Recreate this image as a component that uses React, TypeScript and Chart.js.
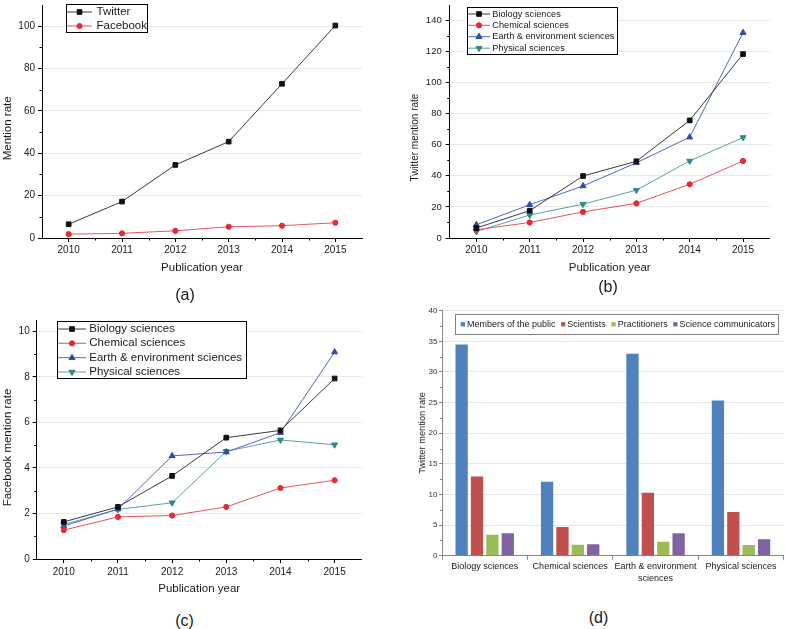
import React, { useEffect, useRef } from 'react';
import { Chart, registerables } from 'chart.js';
import { drawPoint } from 'chart.js/helpers';

Chart.register(...registerables);

const FONT = '"Liberation Sans", Arial, Helvetica, sans-serif';
Chart.defaults.font.family = FONT;

// ---------- data ----------
const years = ['2010', '2011', '2012', '2013', '2014', '2015'];

// (a)
const twitterRate = [6.5, 17.2, 34.5, 45.5, 72.8, 100.3];
const facebookRate = [1.8, 2.2, 3.4, 5.3, 5.8, 7.2];

// (b) Twitter mention rate by field
const fieldNames = ['Biology sciences', 'Chemical sciences', 'Earth & environment sciences', 'Physical sciences'];
const twBiology = [6.4, 17.6, 39.9, 49.4, 75.7, 118.4];
const twChemical = [5.3, 10.0, 16.8, 22.3, 34.6, 49.6];
const twEarth = [8.5, 21.4, 33.5, 48.4, 64.9, 132.2];
const twPhysical = [4.2, 14.8, 21.8, 30.8, 49.6, 64.7];

// (c) Facebook mention rate by field
const fbBiology = [1.63, 2.29, 3.65, 5.33, 5.65, 7.93];
const fbChemical = [1.27, 1.85, 1.91, 2.29, 3.12, 3.46];
const fbEarth = [1.45, 2.19, 4.53, 4.70, 5.55, 9.09];
const fbPhysical = [1.52, 2.18, 2.47, 4.73, 5.23, 5.02];

// (d) Twitter mention rate by audience
const barCategories = [['Biology sciences'], ['Chemical sciences'], ['Earth & environment', 'sciences'], ['Physical sciences']];
const audiences = ['Members of the public', 'Scientists', 'Practitioners', 'Science communicators'];
const publicRate = [34.5, 12.08, 32.97, 25.35];
const scientistRate = [12.95, 4.68, 10.28, 7.13];
const practitionerRate = [3.43, 1.8, 2.29, 1.74];
const communicatorRate = [3.65, 1.85, 3.65, 2.67];

// tick labels
const yTicksA = [0, 20, 40, 60, 80, 100];
const yTicksB = [0, 20, 40, 60, 80, 100, 120, 140];
const yTicksC = [0, 2, 4, 6, 8, 10];
const yTicksD = [0, 5, 10, 15, 20, 25, 30, 35, 40];

// ---------- styles ----------
const S_BLACK = { color: '#111111', line: '#3a3a3a', shape: 'rect', r: 3.3, rot: 0 };
const S_RED = { color: '#e52a30', line: '#e8545a', shape: 'circle', r: 2.6, rot: 0 };
const S_BLUE = { color: '#2f4fa5', line: '#5068bd', shape: 'triangle', r: 3.5, rot: 0 };
const S_TEAL = { color: '#2e8a86', line: '#5ba3a0', shape: 'triangle', r: 3.5, rot: 180 };
const BAR_COLORS = ['#4F81BD', '#C0504D', '#9BBB59', '#8064A2'];
const TEXT = '#1a1a1a';

// ---------- plugins ----------
const boxLegend = {
  id: 'boxLegend',
  afterDraw(chart: any, _a: any, o: any) {
    if (!o || !o.w) return;
    const ctx = chart.ctx;
    ctx.save();
    ctx.fillStyle = '#ffffff';
    ctx.fillRect(o.x, o.y, o.w, o.h);
    ctx.strokeStyle = o.border;
    ctx.lineWidth = 1;
    ctx.strokeRect(Math.round(o.x) + 0.5, Math.round(o.y) + 0.5, Math.round(o.w), Math.round(o.h));
    ctx.font = `${o.size}px ${FONT}`;
    ctx.textBaseline = 'middle';
    ctx.textAlign = 'left';
    const dss = chart.data.datasets;
    if (o.kind === 'bar') {
      let sx = o.startX;
      const cy = o.rows[0];
      dss.forEach((ds: any) => {
        ctx.fillStyle = ds.backgroundColor;
        ctx.fillRect(sx, cy - o.swatch / 2, o.swatch, o.swatch);
        const tx = sx + o.swatch + 2;
        ctx.fillStyle = TEXT;
        ctx.fillText(ds.label, tx, cy);
        sx = tx + ctx.measureText(ds.label).width + 5.5;
      });
    } else {
      dss.forEach((ds: any, i: number) => {
        const cy = o.rows[i];
        ctx.strokeStyle = ds.borderColor;
        ctx.lineWidth = 1;
        ctx.beginPath();
        ctx.moveTo(o.lineX0, cy);
        ctx.lineTo(o.lineX1, cy);
        ctx.stroke();
        ctx.fillStyle = ds.pointBackgroundColor;
        ctx.strokeStyle = ds.pointBorderColor;
        drawPoint(ctx, { pointStyle: ds.pointStyle, rotation: ds.pointRotation || 0, radius: ds.pointRadius, borderWidth: ds.pointBorderWidth }, (o.lineX0 + o.lineX1) / 2, cy);
        ctx.fillStyle = TEXT;
        ctx.fillText(ds.label, o.textX, cy);
      });
    }
    ctx.restore();
  },
};

const minorTicks = {
  id: 'minorTicks',
  afterDraw(chart: any, _a: any, o: any) {
    if (!o || !o.len) return;
    const ctx = chart.ctx;
    const { left, bottom } = chart.chartArea;
    ctx.save();
    ctx.strokeStyle = o.color;
    ctx.lineWidth = 1;
    ctx.beginPath();
    (o.x || []).forEach((v: number) => {
      const px = Math.round(chart.scales.x.getPixelForValue(v)) + 0.5;
      ctx.moveTo(px, bottom);
      ctx.lineTo(px, bottom + o.len);
    });
    (o.y || []).forEach((v: number) => {
      const py = Math.round(chart.scales.y.getPixelForValue(v)) + 0.5;
      ctx.moveTo(left, py);
      ctx.lineTo(left - o.len, py);
    });
    ctx.stroke();
    ctx.restore();
  },
};

const yTitle = {
  id: 'yTitle',
  afterDraw(chart: any, _a: any, o: any) {
    if (!o || !o.text) return;
    const ctx = chart.ctx;
    ctx.save();
    ctx.translate(o.x, o.y);
    ctx.rotate(-Math.PI / 2);
    ctx.font = `${o.size}px ${FONT}`;
    ctx.fillStyle = TEXT;
    ctx.textAlign = 'center';
    ctx.textBaseline = 'middle';
    ctx.fillText(o.text, 0, 0);
    ctx.restore();
  },
};

function midpoints(ticks: number[]) {
  return ticks.slice(0, -1).map((v, i) => (v + ticks[i + 1]) / 2);
}

function fitters(W: number, H: number, L: number, B: number) {
  return {
    xFit: (s: any) => {
      s.height = H - B;
      s.paddingLeft = 0; s.paddingRight = 0; s.paddingTop = 0; s.paddingBottom = 0;
    },
    yFit: (s: any) => {
      s.width = L;
      s.paddingLeft = 0; s.paddingRight = 0; s.paddingTop = 0; s.paddingBottom = 0;
    },
  };
}

function lineChart(canvas: HTMLCanvasElement, p: any) {
  const { W, H, L, T, R, B } = p.frame;
  const f = fitters(W, H, L, B);
  const xtSize = 11.5;
  return new Chart(canvas, {
    type: 'line',
    data: {
      labels: years,
      datasets: p.series.map((s: any) => ({
        label: s.label,
        data: s.data,
        borderColor: s.style.line,
        borderWidth: 1,
        pointStyle: s.style.shape,
        pointRotation: s.style.rot,
        pointRadius: s.style.r,
        pointBorderWidth: 1,
        pointBackgroundColor: s.style.color,
        pointBorderColor: s.style.color,
        tension: 0,
        fill: false,
      })),
    },
    options: {
      responsive: false,
      animation: false,
      devicePixelRatio: 1,
      layout: { padding: { left: 0, top: T, right: W - R, bottom: 0 } },
      plugins: {
        legend: { display: false },
        tooltip: { enabled: false },
        boxLegend: p.legend,
        minorTicks: { len: 2.5, color: '#000', x: [0.5, 1.5, 2.5, 3.5, 4.5], y: midpoints(p.yTicks) },
        yTitle: p.yTitle,
      },
      scales: {
        x: {
          type: 'category',
          offset: true,
          grid: { offset: false, drawOnChartArea: false, tickLength: 4, tickColor: '#000' },
          border: { color: '#000', width: 1 },
          ticks: { font: { size: 10 }, color: TEXT, padding: p.xPad, maxRotation: 0, autoSkip: false },
          title: {
            display: true,
            text: 'Publication year',
            font: { size: xtSize },
            color: TEXT,
            padding: { top: 0, bottom: H - p.xTitleY - (xtSize * 1.2) / 2 },
          },
          afterFit: f.xFit,
        },
        y: {
          min: 0,
          max: p.yMax,
          afterBuildTicks: (s: any) => { s.ticks = p.yTicks.map((v: number) => ({ value: v })); },
          grid: { color: '#e8e8e8', tickLength: 4, tickColor: '#000' },
          border: { color: '#000', width: 1 },
          ticks: { font: { size: p.yTickSize || 10 }, color: TEXT, padding: p.yPad },
          afterFit: f.yFit,
        },
      },
    },
    plugins: [boxLegend, minorTicks, yTitle],
  } as any);
}

function barChart(canvas: HTMLCanvasElement) {
  const W = 393, H = 300, L = 49, T = 10.7, R = 390.7, B = 255.7;
  const f = fitters(W, H, L, B);
  const values = [publicRate, scientistRate, practitionerRate, communicatorRate];
  return new Chart(canvas, {
    type: 'bar',
    data: {
      labels: barCategories,
      datasets: audiences.map((a, i) => ({
        label: a,
        data: values[i],
        backgroundColor: BAR_COLORS[i],
        borderWidth: 0,
        categoryPercentage: 0.72,
        barPercentage: 0.8,
      })),
    },
    options: {
      responsive: false,
      animation: false,
      devicePixelRatio: 1,
      layout: { padding: { left: 0, top: T, right: W - R, bottom: 0 } },
      plugins: {
        legend: { display: false },
        tooltip: { enabled: false },
        boxLegend: { kind: 'bar', x: 61.7, y: 14.3, w: 323.3, h: 20, rows: [24.3], startX: 67.7, swatch: 4.3, size: 9, border: '#7f7f7f' },
        minorTicks: { len: 2, color: '#868686', x: [], y: midpoints(yTicksD) },
        yTitle: { text: 'Twitter mention rate', x: 29, y: 133, size: 9.3 },
      },
      scales: {
        x: {
          grid: { offset: true, drawOnChartArea: false, tickLength: 4, tickColor: '#868686' },
          border: { color: '#868686', width: 1 },
          ticks: { font: { size: 9, lineHeight: 1.35 }, color: TEXT, padding: 1, maxRotation: 0, autoSkip: false },
          afterFit: f.xFit,
        },
        y: {
          min: 0,
          max: 40,
          afterBuildTicks: (s: any) => { s.ticks = yTicksD.map((v) => ({ value: v })); },
          grid: { color: '#e6e6e6', tickLength: 3, tickColor: '#868686' },
          border: { color: '#868686', width: 1 },
          ticks: { font: { size: 8 }, color: '#333', padding: 1.5 },
          afterFit: f.yFit,
        },
      },
    },
    plugins: [boxLegend, minorTicks, yTitle],
  } as any);
}

function PanelLabel({ text, cx, cy }: { text: string; cx: number; cy: number }) {
  return (
    <div style={{ position: 'absolute', left: cx - 20, top: cy - 9, width: 40, textAlign: 'center', fontSize: 16, lineHeight: '16px', color: TEXT, fontFamily: FONT }}>
      {text}
    </div>
  );
}

export default function App() {
  const refA = useRef<HTMLCanvasElement>(null);
  const refB = useRef<HTMLCanvasElement>(null);
  const refC = useRef<HTMLCanvasElement>(null);
  const refD = useRef<HTMLCanvasElement>(null);

  useEffect(() => {
    const charts: Chart[] = [];
    charts.push(lineChart(refA.current!, {
      frame: { W: 393, H: 285, L: 42, T: 3, R: 362, B: 238 },
      series: [
        { label: 'Twitter', data: twitterRate, style: S_BLACK },
        { label: 'Facebook', data: facebookRate, style: S_RED },
      ],
      yMax: 110, yTicks: yTicksA, xPad: 2.5, yPad: 3, xTitleY: 268,
      yTitle: { text: 'Mention rate', x: 7.5, y: 128.3, size: 11.5 },
      legend: { kind: 'line', x: 66, y: 4, w: 81, h: 28, rows: [12, 26], lineX0: 67, lineX1: 92, textX: 96.5, size: 11.5, border: '#000' },
    }));
    charts.push(lineChart(refB.current!, {
      frame: { W: 393, H: 285, L: 56.7, T: 3, R: 376.7, B: 238 },
      series: [
        { label: fieldNames[0], data: twBiology, style: S_BLACK },
        { label: fieldNames[1], data: twChemical, style: S_RED },
        { label: fieldNames[2], data: twEarth, style: S_BLUE },
        { label: fieldNames[3], data: twPhysical, style: S_TEAL },
      ],
      yMax: 150, yTicks: yTicksB, xPad: 2.5, yPad: 4, yTickSize: 9.5, xTitleY: 268,
      yTitle: { text: 'Twitter mention rate', x: 22, y: 137.5, size: 10 },
      legend: { kind: 'line', x: 74, y: 7.3, w: 150.3, h: 47, rows: [14, 25.3, 36.7, 48.2], lineX0: 75, lineX1: 97, textX: 99.3, size: 9.2, border: '#000' },
    }));
    charts.push(lineChart(refC.current!, {
      frame: { W: 393, H: 310, L: 36.7, T: 20, R: 361.7, B: 259 },
      series: [
        { label: fieldNames[0], data: fbBiology, style: S_BLACK },
        { label: fieldNames[1], data: fbChemical, style: S_RED },
        { label: fieldNames[2], data: fbEarth, style: S_BLUE },
        { label: fieldNames[3], data: fbPhysical, style: S_TEAL },
      ],
      yMax: 10.5, yTicks: yTicksC, xPad: 3, yPad: 3, xTitleY: 289.3,
      yTitle: { text: 'Facebook mention rate', x: 8.3, y: 147.5, size: 11.5 },
      legend: { kind: 'line', x: 57, y: 21, w: 189, h: 57.3, rows: [29, 43.3, 57.7, 72], lineX0: 58, lineX1: 86, textX: 89.3, size: 11.5, border: '#000' },
    }));
    charts.push(barChart(refD.current!));
    return () => charts.forEach((c) => c.destroy());
  }, []);

  const box = (left: number, top: number, w: number, h: number, ref: any) => (
    <div style={{ position: 'absolute', left, top, width: w, height: h }}>
      <canvas ref={ref} width={w} height={h} style={{ display: 'block', width: w, height: h }} />
    </div>
  );

  return (
    <div style={{ position: 'absolute', left: 0, top: 0, width: 786, height: 629, overflow: 'hidden', background: '#fff', fontFamily: FONT }}>
      {box(0, 0, 393, 285, refA)}
      {box(393, 0, 393, 285, refB)}
      {box(0, 300, 393, 310, refC)}
      {box(393, 300, 393, 300, refD)}
      <PanelLabel text="(a)" cx={185} cy={295.8} />
      <PanelLabel text="(b)" cx={608} cy={287.5} />
      <PanelLabel text="(c)" cx={184.5} cy={621.7} />
      <PanelLabel text="(d)" cx={598.5} cy={619} />
    </div>
  );
}
